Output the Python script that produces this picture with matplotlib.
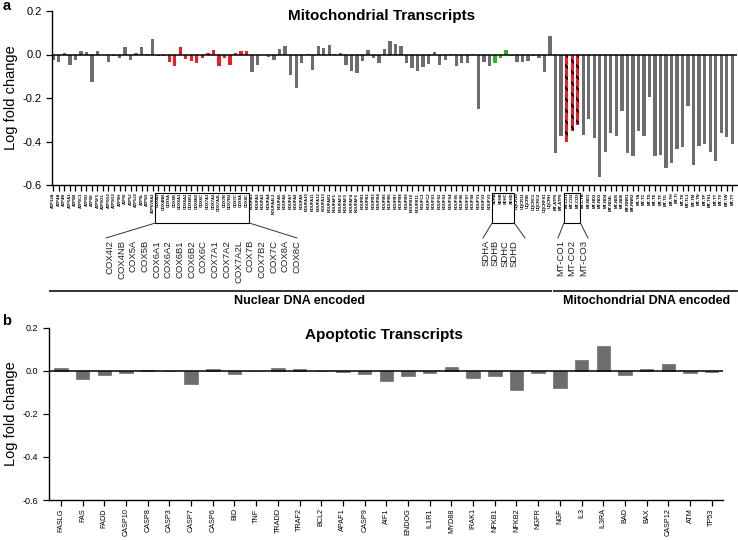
import numpy as np
import matplotlib.pyplot as plt
from matplotlib.lines import Line2D
from matplotlib.patches import Rectangle

plt.rcParams['font.family'] = ['Liberation Sans', 'DejaVu Sans']
plt.rcParams['axes.unicode_minus'] = False
plt.rcParams['hatch.linewidth'] = 1.3

# ── data: mitochondrial transcripts (panel a) ────────────────────────────────

ATP_GENES = ["ATP12A", "ATP4A", "ATP4B", "ATP5A1", "ATP5B", "ATP5C1", "ATP5D", "ATP5E",
             "ATP5F1", "ATP5G1", "ATP5G2", "ATP5G3", "ATP5H", "ATP5I", "ATP5J", "ATP5J2",
             "ATP5L", "ATP5O", "ATP6V0A2"]
COX_GENES = ["COX4I2", "COX4NB", "COX5A", "COX5B", "COX6A1", "COX6A2", "COX6B1", "COX6B2",
             "COX6C", "COX7A1", "COX7A2", "COX7A2L", "COX7B", "COX7B2", "COX7C", "COX8A", "COX8C"]
NDUF_GENES = ["NDUFA1", "NDUFA2", "NDUFA3", "NDUFA4", "NDUFA4L2", "NDUFA5", "NDUFA6", "NDUFA7",
              "NDUFA8", "NDUFA9", "NDUFA10", "NDUFA11", "NDUFA12", "NDUFA13", "NDUFAB1",
              "NDUFAF1", "NDUFAF2", "NDUFAF3", "NDUFAF4", "NDUFAF5", "NDUFB1", "NDUFB2",
              "NDUFB3", "NDUFB4", "NDUFB5", "NDUFB6", "NDUFB7", "NDUFB8", "NDUFB9", "NDUFB10",
              "NDUFB11", "NDUFC1", "NDUFC2", "NDUFS1", "NDUFS2", "NDUFS3", "NDUFS4", "NDUFS5",
              "NDUFS6", "NDUFS7", "NDUFS8", "NDUFV1", "NDUFV2", "NDUFV3"]
SDH_GENES = ["SDHA", "SDHB", "SDHC", "SDHD"]
UQCR_GENES = ["UQCR10", "UQCR11", "UQCRB", "UQCRC1", "UQCRC2", "UQCRFS1", "UQCRH"]
MT_GENES = ["MT-ATP6", "MT-ATP8", "MT-CO1", "MT-CO2", "MT-CO3", "MT-CYB", "MT-ND1", "MT-ND2",
            "MT-ND3", "MT-ND4", "MT-ND4L", "MT-ND5", "MT-ND6", "MT-RNR1", "MT-RNR2", "MT-TA",
            "MT-TC", "MT-TD", "MT-TE", "MT-TF", "MT-TG", "MT-TH", "MT-TI", "MT-TK", "MT-TL1",
            "MT-TM", "MT-TN", "MT-TP", "MT-TS1", "MT-TT", "MT-TV", "MT-TW", "MT-TY"]
MT_CO_GENES = ["MT-CO1", "MT-CO2", "MT-CO3"]

ATP_LFC = [-0.026, -0.034, 0.009, -0.047, -0.023, 0.015, 0.012, -0.125, 0.015, -0.002,
           -0.034, -0.009, -0.017, 0.033, -0.026, 0.005, 0.033, 0.001, 0.069]
COX_LFC = [-0.005, -0.006, -0.034, -0.052, 0.034, -0.021, -0.029, -0.038, -0.017, 0.005,
           0.020, -0.052, -0.018, -0.046, 0.005, 0.017, 0.017]
NDUF_LFC = [-0.082, -0.049, -0.004, -0.010, -0.023, 0.024, 0.040, -0.095, -0.155, -0.038,
            0.002, -0.073, 0.040, 0.028, 0.045, 0.001, 0.008, -0.050, -0.078, -0.085,
            -0.030, 0.020, -0.017, -0.038, 0.026, 0.060, 0.049, 0.038, -0.037, -0.062,
            -0.077, -0.057, -0.042, 0.011, -0.048, -0.025, 0.004, -0.052, -0.038, -0.038,
            0.003, -0.250, -0.035, -0.053]
SDH_LFC = [-0.037, -0.014, 0.020, -0.005]
UQCR_LFC = [-0.034, -0.034, -0.029, -0.006, -0.014, -0.082, 0.085]
MT_LFC = [-0.452, -0.376, -0.400, -0.350, -0.325, -0.371, -0.295, -0.383, -0.565, -0.447,
          -0.363, -0.376, -0.260, -0.452, -0.467, -0.350, -0.376, -0.195, -0.467, -0.460,
          -0.524, -0.500, -0.435, -0.424, -0.238, -0.507, -0.421, -0.412, -0.450, -0.489,
          -0.360, -0.379, -0.410]

# ── data: apoptotic transcripts (panel b) ────────────────────────────────────

APOP_GENES = ["FASLG", "FAS", "FADD", "CASP10", "CASP8", "CASP3", "CASP7", "CASP6", "BID",
              "TNF", "TRADD", "TRAF2", "BCL2", "APAF1", "CASP9", "AIF1", "ENDOG", "IL1R1",
              "MYD88", "IRAK1", "NFKB1", "NFKB2", "NGFR", "NGF", "IL3", "IL3RA", "BAD", "BAX",
              "CASP12", "ATM", "TP53"]
APOP_LFC = [0.012, -0.039, -0.020, -0.011, 0.004, 0.0, -0.060, 0.006, -0.015, 0.0,
            0.012, 0.008, 0.0, -0.005, -0.015, -0.047, -0.026, -0.011, 0.016, -0.034,
            -0.026, -0.090, -0.011, -0.079, 0.051, 0.116, -0.020, 0.008, 0.033, -0.011, -0.005]

# ── style ─────────────────────────────────────────────────────────────────────

GRAY  = "#6d6d6d"
RED   = "#ee1c24"
GREEN = "#22b822"
W, H  = 738, 540

def fx(x): return x / W
def fy(y): return 1 - y / H

mito_genes = ATP_GENES + COX_GENES + NDUF_GENES + SDH_GENES + UQCR_GENES + MT_GENES
mito_lfc   = ATP_LFC + COX_LFC + NDUF_LFC + SDH_LFC + UQCR_LFC + MT_LFC

colors = []
for g in mito_genes:
    if g in COX_GENES or g in MT_CO_GENES:
        colors.append(RED)
    elif g in SDH_GENES:
        colors.append(GREEN)
    else:
        colors.append(GRAY)

fig = plt.figure(figsize=(7.38, 5.4), dpi=100)

def style_axis(ax, ticklen):
    ax.spines["top"].set_visible(False)
    ax.spines["right"].set_visible(False)
    for s in ("left", "bottom"):
        ax.spines[s].set_linewidth(1.0)
    ax.set_ylim(-0.6, 0.2)
    ax.set_yticks([-0.6, -0.4, -0.2, 0.0, 0.2])
    ax.set_yticklabels(["-0.6", "-0.4", "-0.2", "0.0", "0.2"])
    ax.tick_params(axis="both", direction="out", length=ticklen, width=0.9, color="black")
    ax.axhline(0, color="black", lw=1.1, zorder=3)

# ── panel a ───────────────────────────────────────────────────────────────────

ax1 = fig.add_axes([fx(52), fy(185), (737 - 52) / W, (185 - 11) / H])
x1 = np.arange(len(mito_genes))
bars = ax1.bar(x1, mito_lfc, width=0.6, color=colors, linewidth=0, zorder=2)
for b, g in zip(bars, mito_genes):
    if g in MT_CO_GENES:
        b.set_hatch("\\\\\\")
        b.set_edgecolor("black")
        b.set_linewidth(0)
style_axis(ax1, 4)
ax1.set_xlim(-0.235, len(mito_genes) - 1 + 0.86)
ax1.set_xticks(x1)
ax1.set_xticklabels(mito_genes, rotation=90, fontsize=3, fontweight="bold")
ax1.tick_params(axis="x", pad=1.5)
ax1.tick_params(axis="y", labelsize=8)

def fig_x(ax, xd):
    disp = ax.transData.transform((xd, 0))
    return fig.transFigure.inverted().transform(disp)[0]

def callout(group, label_px, left_end, right_end):
    i0 = mito_genes.index(group[0])
    i1 = mito_genes.index(group[-1])
    xl, xr = fig_x(ax1, i0 - 0.5), fig_x(ax1, i1 + 0.5)
    fig.add_artist(Rectangle((xl, fy(223)), xr - xl, fy(193) - fy(223), fill=False,
                             lw=0.8, edgecolor="black", transform=fig.transFigure))
    fig.add_artist(Line2D([xl, fx(left_end)], [fy(223), fy(238)], lw=0.7, color="#333333"))
    fig.add_artist(Line2D([xr, fx(right_end)], [fy(223), fy(238)], lw=0.7, color="#333333"))
    for g, px in zip(group, label_px):
        fig.text(fx(px), fy(240), g, rotation=90, ha="center", va="top", fontsize=6.8,
                 color="#222222")

callout(COX_GENES, np.linspace(110, 297, len(COX_GENES)), 106, 297)
callout(SDH_GENES, np.linspace(486, 514, len(SDH_GENES)), 483, 525)
callout(MT_CO_GENES, [561, 572, 584], 558, 588)

fig.add_artist(Line2D([fx(50), fx(551)], [fy(290.5)] * 2, lw=1.3, color="#222222"))
fig.add_artist(Line2D([fx(554), fx(737)], [fy(290.5)] * 2, lw=1.3, color="#222222"))
fig.text(fx(300), fy(301), "Nuclear DNA encoded", ha="center", va="center",
         fontsize=9, fontweight="bold")
fig.text(fx(647), fy(301), "Mitochondrial DNA encoded", ha="center", va="center",
         fontsize=9, fontweight="bold")

fig.text(fx(382), fy(16), "Mitochondrial Transcripts", ha="center", va="center",
         fontsize=11, fontweight="bold")
fig.text(fx(7), fy(6), "a", ha="center", va="center", fontsize=10.5, fontweight="bold")
fig.text(fx(11), fy(98), "Log fold change", rotation=90, ha="center", va="center",
         fontsize=10.5)

# ── panel b ───────────────────────────────────────────────────────────────────

ax2 = fig.add_axes([fx(49), fy(500), (723 - 49) / W, (500 - 327.7) / H])
x2 = np.arange(len(APOP_GENES))
ax2.bar(x2, APOP_LFC, width=0.62, color=GRAY, edgecolor="#5a5a5a", linewidth=0.4, zorder=2)
style_axis(ax2, 4)
ax2.set_xlim(-0.55, 30.52)
ax2.set_xticks(x2)
ax2.set_xticklabels(APOP_GENES, rotation=90, fontsize=5.2)
ax2.tick_params(axis="x", pad=2)
ax2.tick_params(axis="y", labelsize=6.5)

fig.text(fx(384), fy(335), "Apoptotic Transcripts", ha="center", va="center",
         fontsize=11, fontweight="bold")
fig.text(fx(7), fy(321), "b", ha="center", va="center", fontsize=10.5, fontweight="bold")
fig.text(fx(11), fy(414), "Log fold change", rotation=90, ha="center", va="center",
         fontsize=10.5)

plt.savefig("out.png", dpi=100)
